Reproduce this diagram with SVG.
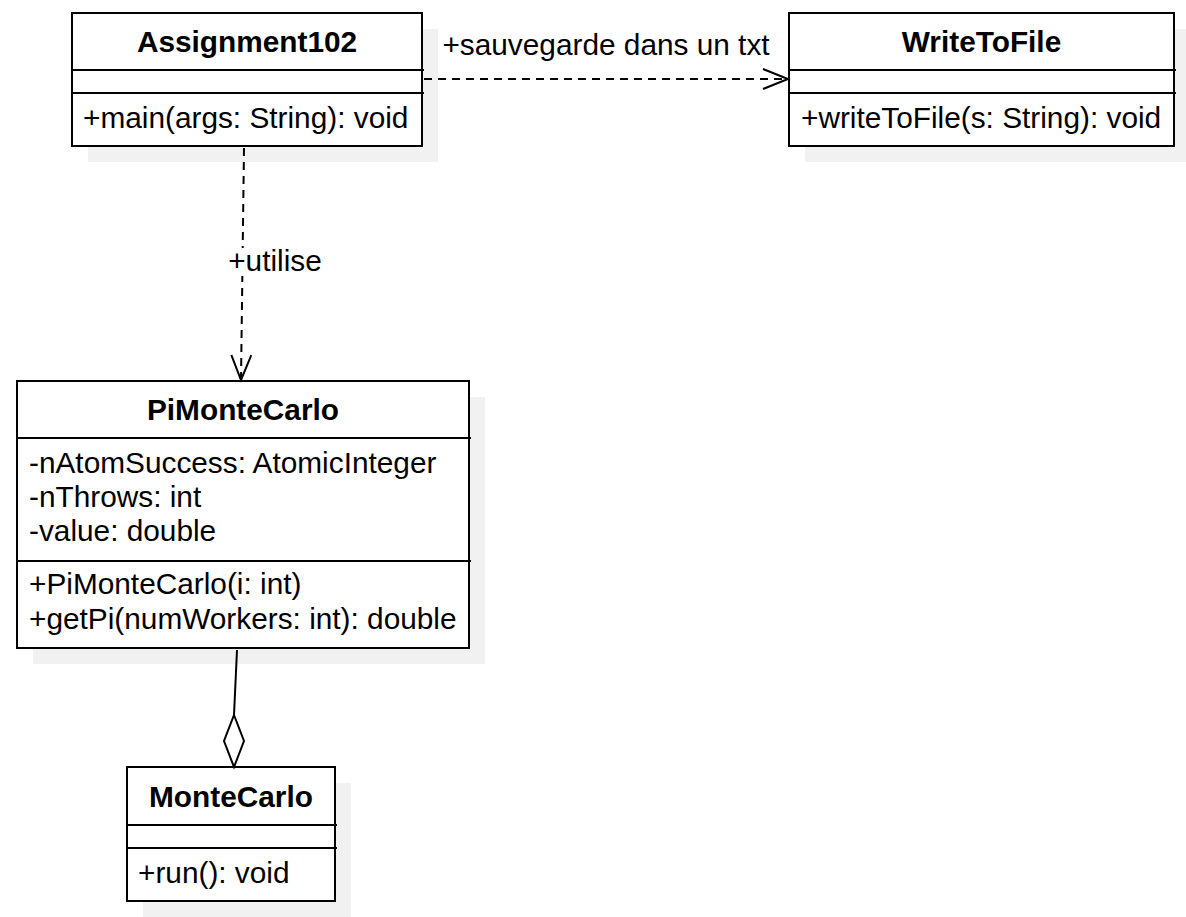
<svg xmlns="http://www.w3.org/2000/svg" width="1186" height="917" viewBox="0 0 1186 917">
<style>
.box{fill:#ffffff;stroke:#000000;stroke-width:2}
.shadow{fill:#f1f1f1;stroke:none}
.sep{stroke:#000000;stroke-width:2}
.t{font-family:"Liberation Sans",Arial,sans-serif;font-size:29.8px;fill:#000000}
.b{font-weight:bold;text-anchor:middle}
.edge{fill:none;stroke:#000000;stroke-width:2}
.dash{stroke-dasharray:8 6}
</style>
<defs>
<marker id="open" markerUnits="userSpaceOnUse" markerWidth="30" markerHeight="24" viewBox="0 0 30 24" refX="26" refY="11" orient="auto">
<path d="M1,1 L26,11 L1,21" fill="none" stroke="#000" stroke-width="2"/>
</marker>
</defs>
<rect width="1186" height="917" fill="#ffffff"/>

<g id="Assignment102">
<rect class="shadow" x="88" y="29" width="350" height="133"/>
<rect class="box" x="72" y="13" width="350" height="133"/>
<line class="sep" x1="72" y1="70" x2="424" y2="70"/>
<line class="sep" x1="72" y1="93" x2="424" y2="93"/>
<text class="t b" x="247" y="52">Assignment102</text>
<text class="t" x="83" y="128">+main(args: String): void</text>
</g>

<g id="WriteToFile">
<rect class="shadow" x="805" y="29" width="381" height="133"/>
<rect class="box" x="789" y="13" width="385" height="133"/>
<line class="sep" x1="789" y1="70" x2="1176" y2="70"/>
<line class="sep" x1="789" y1="93" x2="1176" y2="93"/>
<text class="t b" x="981.5" y="52">WriteToFile</text>
<text class="t" x="801" y="128">+writeToFile(s: String): void</text>
</g>

<g id="PiMonteCarlo">
<rect class="shadow" x="33" y="397" width="452" height="267"/>
<rect class="box" x="17" y="381" width="452" height="267"/>
<line class="sep" x1="17" y1="438" x2="471" y2="438"/>
<line class="sep" x1="17" y1="561" x2="471" y2="561"/>
<text class="t b" x="243" y="420">PiMonteCarlo</text>
<text class="t" x="29" y="473">-nAtomSuccess: AtomicInteger</text>
<text class="t" x="29" y="507">-nThrows: int</text>
<text class="t" x="29" y="541">-value: double</text>
<text class="t" x="29" y="594">+PiMonteCarlo(i: int)</text>
<text class="t" x="29" y="629">+getPi(numWorkers: int): double</text>
</g>

<g id="MonteCarlo">
<rect class="shadow" x="143" y="783" width="208" height="134"/>
<rect class="box" x="127" y="767" width="208" height="134"/>
<line class="sep" x1="127" y1="825" x2="337" y2="825"/>
<line class="sep" x1="127" y1="848" x2="337" y2="848"/>
<text class="t b" x="231" y="807">MonteCarlo</text>
<text class="t" x="138" y="883">+run(): void</text>
</g>

<g id="connectors">
<path class="edge dash" d="M424,79 L788,79" marker-end="url(#open)"/>
<text class="t" x="606" y="55" text-anchor="middle">+sauvegarde dans un txt</text>
<path class="edge dash" d="M244,148 L241,380" marker-end="url(#open)"/>
<rect x="229" y="248" width="92" height="28" fill="#ffffff"/>
<text class="t" x="275" y="271" text-anchor="middle">+utilise</text>
<path class="edge" d="M237,650 L234,715"/>
<polygon class="edge" points="234,715 244,741 234,767 224,741" fill="#ffffff"/>
</g>
</svg>
